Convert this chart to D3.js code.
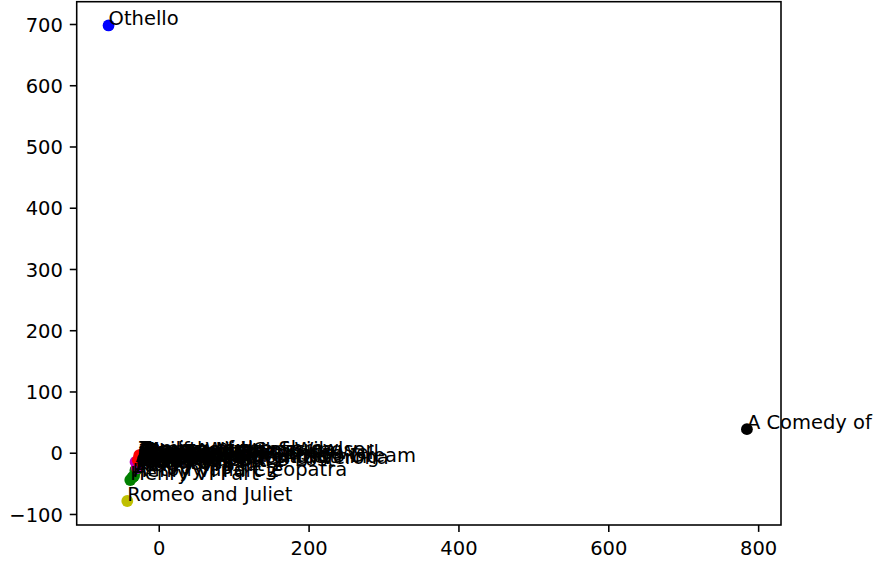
<!DOCTYPE html>
<html><head><meta charset="utf-8">
<script src="https://cdn.jsdelivr.net/npm/d3@7"></script>
<style>
html,body{margin:0;padding:0;background:#fff;}
svg{display:block;}
text{font-family:"DejaVu Sans",sans-serif;}
</style></head>
<body>
<svg id="chart" width="875" height="562"></svg>
<script>
// ---- data ----
const plays = [
  "Othello","A Comedy of Errors","Romeo and Juliet",
  "Henry VI Part 3","Henry VI Part 2","Antony and Cleopatra","Henry VI Part 1","Richard III","King John",
  "Richard II","Henry IV Part 1","Henry IV Part 2","Henry V","Henry VIII",
  "Cymbeline","Pericles","Love's Labour's Lost","As You Like It","Much Ado About Nothing",
  "A Midsummer Night's Dream","Two Gentlemen of Verona","Merchant of Venice","Coriolanus","Julius Caesar",
  "Winter's Tale","Measure for Measure","Macbeth","King Lear","Hamlet",
  "All's Well That Ends Well","The Tempest","Timon of Athens","Titus Andronicus","Twelfth Night",
  "Merry Wives of Windsor","Troilus and Cressida","Taming of the Shrew"
];
const xValues = [
  -67, 785, -42,
  -38, -35, -33, -31, -30, -31,
  -29, -28, -28, -29, -27,
  -29, -27, -28, -29, -29,
  -31, -26, -27, -26, -25,
  -27, -28, -26, -24, -25,
  -23, -24, -25, -22, -24,
  -21, -23, -26
];
const yValues = [
  697.6, 38.5, -78.8,
  -44.5, -40, -38, -30, -27, -28,
  -25, -22, -23, -24, -20,
  -22, -20, -21, -19, -17,
  -15, -18, -16, -16, -14,
  -13, -12, -12, -11, -10,
  -10, -9, -8, -7, -6,
  -6, -5, -4
];
const groups = [
  "b","k","y",
  "g","g","g","g","g","g",
  "m","m","m","m","m",
  "m","m","m","m","m",
  "m","m","m","m","m",
  "r","r","r","r","r",
  "r","r","r","r","r",
  "r","r","r"
];
const palette = {b:"#0000ff", k:"#000000", y:"#bfbf00", g:"#008000", m:"#bf00bf", r:"#ff0000"};
const xTicks = [0, 200, 400, 600, 800];
const yTicks = [-100, 0, 100, 200, 300, 400, 500, 600, 700];

// ---- layout ----
const L = 76.7, R = 781, T = 1.7, B = 525;
const svg = d3.select("#chart");
const x = d3.scaleLinear().domain([-109.5, 830.5]).range([L, R]);
const y = d3.scaleLinear().domain([-118, 736.4]).range([B, T]);
const fs = 19.5, tickLen = 6.9, lw = 1.57;

const data = plays.map((p, i) => ({name: p, x: xValues[i], y: yValues[i], g: groups[i]}));

// points
const pts = svg.append("g").attr("clip-path", "url(#clip)");
svg.append("clipPath").attr("id", "clip").append("rect")
  .attr("x", L).attr("y", T).attr("width", R - L).attr("height", B - T);
pts.selectAll("circle").data(data).join("circle")
  .attr("cx", d => x(d.x)).attr("cy", d => y(d.y)).attr("r", 5.9)
  .attr("fill", d => palette[d.g]);

// axes
const xAxis = d3.axisBottom(x).tickValues(xTicks).tickSize(tickLen).tickPadding(6.9).tickFormat(d3.format("d"));
const yAxis = d3.axisLeft(y).tickValues(yTicks).tickSize(tickLen).tickPadding(6.9)
  .tickFormat(d => d < 0 ? "\u2212" + Math.abs(d) : String(d));

const gx = svg.append("g").attr("transform", `translate(0,${B})`).call(xAxis);
const gy = svg.append("g").attr("transform", `translate(${L},0)`).call(yAxis);
[gx, gy].forEach(g => {
  g.select(".domain").remove();
  g.selectAll(".tick line").attr("stroke", "#000").attr("stroke-width", lw);
  g.selectAll(".tick text").attr("fill", "#000").attr("font-size", fs)
    .attr("font-family", "DejaVu Sans");
});
gx.selectAll(".tick text").attr("dy", null).attr("y", 29.5);
gy.selectAll(".tick text").attr("dy", null).attr("y", 7.1);

// frame
svg.append("rect").attr("x", L).attr("y", T).attr("width", R - L).attr("height", B - T)
  .attr("fill", "none").attr("stroke", "#000").attr("stroke-width", lw);

// labels (drawn above all markers)
svg.append("g").selectAll("text").data(data).join("text")
  .attr("x", d => x(d.x)).attr("y", d => y(d.y))
  .attr("font-size", fs).attr("fill", "#000")
  .text(d => d.name);
</script>
</body></html>
